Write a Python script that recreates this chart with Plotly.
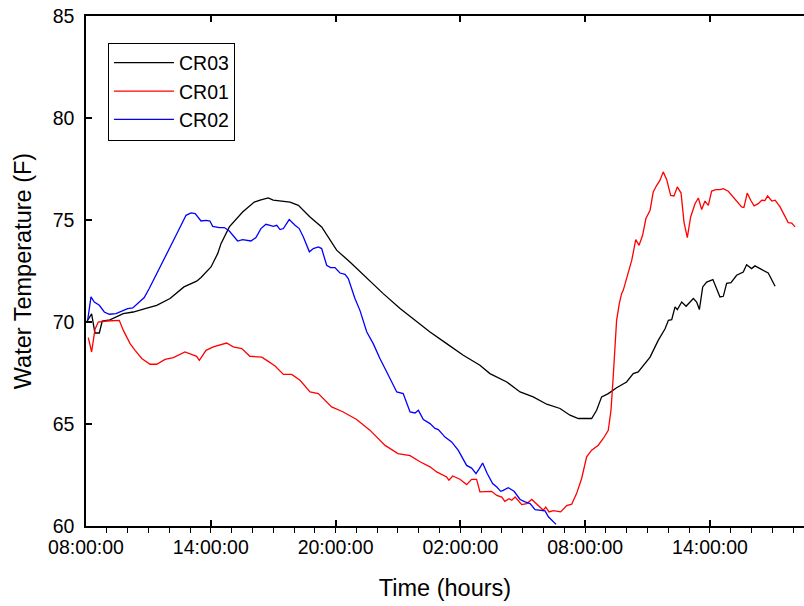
import numpy as np
import pandas as pd
import plotly.graph_objects as go

# ---- data: hours since 08:00 on day 1, water temperature (F) ----
cr03_hours = [0.03, 0.27, 0.43, 0.64, 0.78, 1.15, 1.79, 2.27, 2.84, 3.40, 4.04, 4.71, 5.32, 5.53,
              6.01, 6.33, 6.49, 6.89, 7.53, 8.09, 8.37, 8.65, 8.76, 9.00, 9.81, 10.21, 10.77,
              11.33, 12.05, 12.69, 13.50, 14.29, 15.10, 15.90, 16.54, 17.34, 18.14, 18.94, 19.42,
              20.23, 20.87, 21.50, 22.15, 22.79, 23.27, 23.67, 24.31, 24.55, 24.79, 25.11, 25.51,
              25.99, 26.31, 26.55, 27.12, 27.51, 27.84, 28.00, 28.16, 28.32, 28.43, 28.64, 28.85,
              29.20, 29.36, 29.49, 29.65, 29.84, 30.14, 30.48, 30.64, 30.80, 31.01, 31.28, 31.60,
              31.76, 32.00, 32.16, 32.80, 33.13]
cr03_temp = [70.0, 70.4, 69.46, 69.46, 70.05, 70.1, 70.41, 70.49, 70.66, 70.82, 71.15, 71.72, 72.0, 72.18,
             72.7, 73.35, 73.84, 74.66, 75.39, 75.88, 75.97, 76.05, 76.08, 75.97, 75.88, 75.72, 75.15,
             74.66, 73.52, 72.94, 72.13, 71.39, 70.66, 70.0, 69.51, 68.94, 68.37, 67.88, 67.47,
             67.06, 66.57, 66.33, 65.97, 65.76, 65.43, 65.27, 65.27, 65.67, 66.33, 66.49, 66.78,
             67.06, 67.47, 67.55, 68.28, 69.1, 69.67, 70.08, 70.11, 70.74, 70.61, 70.98, 70.77,
             71.15, 70.98, 70.61, 71.72, 71.96, 72.08, 71.23, 71.26, 71.9, 71.93, 72.29, 72.45,
             72.81, 72.62, 72.75, 72.4, 71.75]

cr01_hours = [0.11, 0.27, 0.43, 0.59, 1.00, 1.31, 1.60, 1.79, 2.12, 2.36, 2.68, 3.08, 3.40, 3.80,
              4.20, 4.76, 5.32, 5.45, 5.77, 6.12, 6.76, 7.08, 7.49, 7.88, 8.45, 8.69, 9.09, 9.49,
              9.89, 10.29, 10.77, 11.17, 11.81, 12.37, 13.01, 13.65, 14.38, 15.00, 15.58, 16.06,
              16.54, 16.86, 17.34, 17.45, 17.63, 17.98, 18.30, 18.54, 18.78, 18.94, 19.50, 19.75,
              19.99, 20.14, 20.34, 20.47, 20.63, 20.95, 21.19, 21.43, 21.75, 21.99, 22.10, 22.26,
              22.47, 22.71, 22.82, 23.11, 23.35, 23.59, 23.83, 24.07, 24.31, 24.63, 24.87, 25.11,
              25.24, 25.34, 25.43, 25.51, 25.64, 25.75, 25.83, 25.99, 26.24, 26.43, 26.59, 26.76,
              26.92, 27.12, 27.27, 27.44, 27.60, 27.75, 27.92, 28.11, 28.27, 28.43, 28.61, 28.75,
              28.91, 29.07, 29.28, 29.44, 29.60, 29.76, 29.92, 30.08, 30.29, 30.48, 30.64, 30.88,
              31.12, 31.36, 31.52, 31.63, 31.79, 31.96, 32.12, 32.32, 32.49, 32.64, 32.77, 32.97,
              33.13, 33.37, 33.61, 33.76, 33.93, 34.09]
cr01_temp = [69.23, 68.53, 69.63, 70.0, 70.05, 70.05, 70.08, 69.6, 68.94, 68.61, 68.21, 67.93, 67.93, 68.17,
             68.25, 68.53, 68.32, 68.12, 68.61, 68.78, 68.97, 68.78, 68.70, 68.32, 68.28, 68.12, 67.84, 67.43,
             67.43, 67.14, 66.57, 66.49, 65.84, 65.59, 65.22, 64.7, 63.95, 63.55, 63.45, 63.15,
             62.9, 62.65, 62.4, 62.24, 62.45, 62.29, 62.03, 62.29, 62.29, 61.67, 61.7, 61.5,
             61.42, 61.21, 61.34, 61.26, 61.42, 61.05, 61.09, 61.30, 61.0, 60.77, 60.93, 60.69,
             60.75, 60.73, 60.69, 61.0, 61.07, 61.6, 62.33, 63.39, 63.72, 63.96, 64.29, 64.69,
             65.67, 67.2, 68.78, 70.08, 70.9, 71.39, 71.55, 72.13, 73.03, 74.04, 73.76, 74.25,
             75.07, 75.48, 76.37, 76.70, 76.95, 77.36, 76.98, 76.21, 76.18, 76.62, 76.32, 74.9,
             74.14, 75.15, 75.8, 76.08, 75.51, 75.93, 75.72, 76.42, 76.49, 76.49, 76.54, 76.41,
             76.13, 75.84, 75.64, 75.61, 76.32, 75.97, 75.69, 75.8, 75.97, 75.95, 76.18, 75.93,
             75.97, 75.64, 75.15, 74.87, 74.85, 74.66]

cr02_hours = [0.08, 0.24, 0.40, 0.64, 0.88, 1.12, 1.44, 1.76, 2.00, 2.25, 2.56, 2.80, 3.04, 3.37,
              3.85, 4.33, 4.81, 5.05, 5.25, 5.53, 5.77, 5.96, 6.09, 6.41, 6.65, 6.89, 7.29, 7.53,
              7.93, 8.17, 8.41, 8.65, 8.85, 9.00, 9.17, 9.33, 9.49, 9.77, 10.05, 10.25, 10.45,
              10.74, 10.93, 11.17, 11.33, 11.57, 11.76, 11.97, 12.21, 12.45, 12.61, 12.93, 13.17,
              13.50, 13.81, 14.13, 14.46, 14.70, 14.94, 15.25, 15.42, 15.58, 15.82, 15.98, 16.22,
              16.54, 16.78, 16.94, 17.26, 17.58, 17.90, 18.14, 18.30, 18.54, 18.75, 18.91, 19.07,
              19.29, 19.55, 19.75, 19.94, 20.06, 20.30, 20.58, 20.87, 21.11, 21.35, 21.59, 21.83,
              22.07, 22.23, 22.47, 22.60]
cr02_temp = [70.08, 71.23, 70.98, 70.82, 70.49, 70.38, 70.41, 70.54, 70.66, 70.69, 70.98, 71.2, 71.64, 72.29,
             73.27, 74.25, 75.23, 75.35, 75.31, 74.95, 74.98, 74.95, 74.69, 74.63, 74.63, 74.46, 73.97, 74.04,
             73.97, 74.14, 74.58, 74.79, 74.74, 74.69, 74.74, 74.53, 74.58, 75.02, 74.74, 74.58, 74.17,
             73.44, 73.6, 73.68, 73.6, 72.78, 72.67, 72.67, 72.4, 72.34, 72.13, 71.15, 70.57,
             69.51, 68.94, 68.21, 67.55, 67.06, 66.57, 66.49, 66.0, 65.59, 65.54, 65.67, 65.22,
             65.02, 64.78, 64.73, 64.36, 64.12, 63.71, 63.22, 62.97, 62.84, 62.57, 62.81, 63.09,
             62.57, 62.08, 61.91, 61.7, 61.75, 61.88, 61.7, 61.3, 61.18, 61.1, 60.8, 60.77,
             60.74, 60.45, 60.2, 60.08]

series_names = ["CR03", "CR01", "CR02"]
start_time = "2000-01-01 08:00:00"
range_hours = 34.52
y_range = [60, 85]

base = pd.Timestamp(start_time)


def to_time(hours):
    return base + pd.to_timedelta(np.array(hours), unit="h")


FONT = "Arial, 'Liberation Sans', sans-serif"

fig = go.Figure()
for name, hrs, vals, color in [
    (series_names[0], cr03_hours, cr03_temp, "#000000"),
    (series_names[1], cr01_hours, cr01_temp, "#ff0000"),
    (series_names[2], cr02_hours, cr02_temp, "#0000ff"),
]:
    fig.add_trace(go.Scatter(x=to_time(hrs), y=vals, mode="lines", name=name,
                             line=dict(color=color, width=1.3)))

# empty helper trace so the top axis (inside major ticks) is drawn
fig.add_trace(go.Scatter(x=[], y=[], xaxis="x2", showlegend=False, hoverinfo="skip"))

x_range = [base, base + pd.Timedelta(hours=range_hours)]

fig.update_layout(
    width=804, height=606,
    margin=dict(l=86, r=0, t=16, b=80),
    paper_bgcolor="white", plot_bgcolor="white",
    font=dict(family=FONT, color="black", size=19.5),
    showlegend=True,
    legend=dict(x=0.0306, y=0.948, xanchor="left", yanchor="top",
                bgcolor="white", bordercolor="black", borderwidth=1,
                font=dict(size=19.5, family=FONT), itemwidth=60),
    xaxis=dict(
        type="date", range=x_range, automargin=False,
        tick0=start_time, dtick=6 * 3600000, tickformat="%H:%M:%S",
        ticks="inside", ticklen=6, tickwidth=1.5, tickcolor="black",
        minor=dict(ticks="outside", dtick=3600000, ticklen=5, tickwidth=1, tickcolor="black", showgrid=False),
        showline=True, linecolor="black", linewidth=1.5, mirror=True,
        showgrid=False, zeroline=False,
        ticklabelstandoff=3,
        tickfont=dict(size=19.5),
        title=dict(text="Time (hours)", font=dict(size=23.5), standoff=22),
    ),
    xaxis2=dict(
        type="date", matches="x", overlaying="x", side="top", automargin=False,
        tick0=start_time, dtick=6 * 3600000,
        ticks="inside", ticklen=6, tickwidth=1.5, tickcolor="black",
        showticklabels=False, showline=False, showgrid=False, zeroline=False,
    ),
    yaxis=dict(
        range=y_range, dtick=5, tick0=60, automargin=False,
        ticks="inside", ticklen=6, tickwidth=1.5, tickcolor="black",
        showline=True, linecolor="black", linewidth=1.5, mirror=False,
        showgrid=False, zeroline=False,
        ticklabelstandoff=6,
        tickfont=dict(size=19.5),
        title=dict(text="Water Temperature (F)", font=dict(size=23.5), standoff=14),
    ),
)

fig.write_html("out.html", config={"displayModeBar": False},
               post_script="document.body.style.margin='0';")
